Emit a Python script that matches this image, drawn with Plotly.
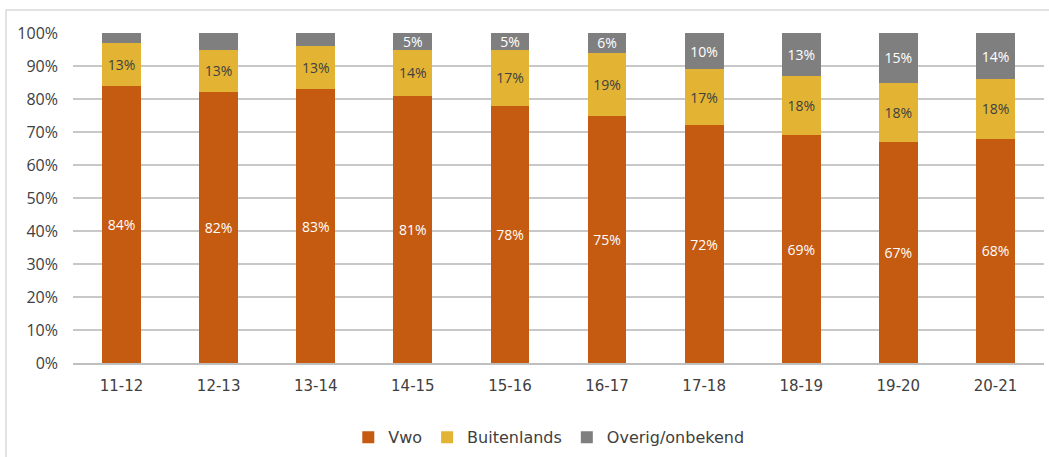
import plotly.graph_objects as go

# schooljaren
jaren = ['11-12', '12-13', '13-14', '14-15', '15-16', '16-17', '17-18', '18-19', '19-20', '20-21']

# aandelen in procenten
vwo = [84, 82, 83, 81, 78, 75, 72, 69, 67, 68]
buitenlands = [13, 13, 13, 14, 17, 19, 17, 18, 18, 18]
overig = [3, 5, 4, 5, 5, 6, 11, 13, 15, 14]
# labels zoals in de grafiek (kleine aandelen zonder label)
overig_labels = ['', '', '', '5%', '5%', '6%', '10%', '13%', '15%', '14%']

label_font = 'Open Sans, sans-serif'

fig = go.Figure()

fig.add_trace(go.Bar(
    x=jaren, y=vwo, name='Vwo',
    marker=dict(color='#C55A11', line=dict(width=0)),
    text=[f'{v}%' for v in vwo],
    textposition='inside', insidetextanchor='middle', textangle=0,
    textfont=dict(color='white', size=14, family=label_font),
))
fig.add_trace(go.Bar(
    x=jaren, y=buitenlands, name='Buitenlands',
    marker=dict(color='#E3B433', line=dict(width=0)),
    text=[f'{v}%' for v in buitenlands],
    textposition='inside', insidetextanchor='middle', textangle=0,
    textfont=dict(color='#404040', size=14, family=label_font),
))
fig.add_trace(go.Bar(
    x=jaren, y=overig, name='Overig/onbekend',
    marker=dict(color='#7F7F7F', line=dict(width=0)),
    text=overig_labels,
    textposition='inside', insidetextanchor='middle', textangle=0,
    textfont=dict(color='white', size=14, family=label_font),
))

fig.update_layout(
    barmode='stack',
    bargap=0.6,
    width=1049, height=457,
    margin=dict(l=73, r=5, t=33, b=94, autoexpand=False),
    paper_bgcolor='white',
    plot_bgcolor='white',
    font=dict(family='DejaVu Sans, sans-serif', color='#404040', size=14),
    uniformtext=dict(minsize=12, mode='show'),
    showlegend=True,
    legend=dict(
        orientation='h', x=0.49, xanchor='center', y=-0.225, yanchor='middle',
        font=dict(size=16, color='#404040'), traceorder='normal',
        itemwidth=30,
    ),
    xaxis=dict(
        type='category',
        showgrid=False, ticks='', showline=True, linecolor='#BFBFBF', linewidth=2,
        tickfont=dict(size=15, family='DejaVu Sans, sans-serif', color='#404040'),
        ticklabelstandoff=8,
        range=[-0.5, 9.5],
    ),
    yaxis=dict(
        range=[0, 100], dtick=10, ticksuffix='%',
        showgrid=True, gridcolor='#C8C8C8', gridwidth=2,
        zeroline=False, showline=False, ticks='',
        tickfont=dict(size=16, family='Open Sans, sans-serif', color='#404040'),
        ticklabelstandoff=14,
    ),
    shapes=[dict(
        type='rect', xref='paper', yref='paper',
        x0=-0.069, x1=1.2, y0=-0.6, y1=1.07,
        line=dict(color='#D9D9D9', width=1.5), layer='below',
    )],
)

fig.write_html('out.html', config={'displayModeBar': False},
               post_script="document.body.style.margin='0';")
